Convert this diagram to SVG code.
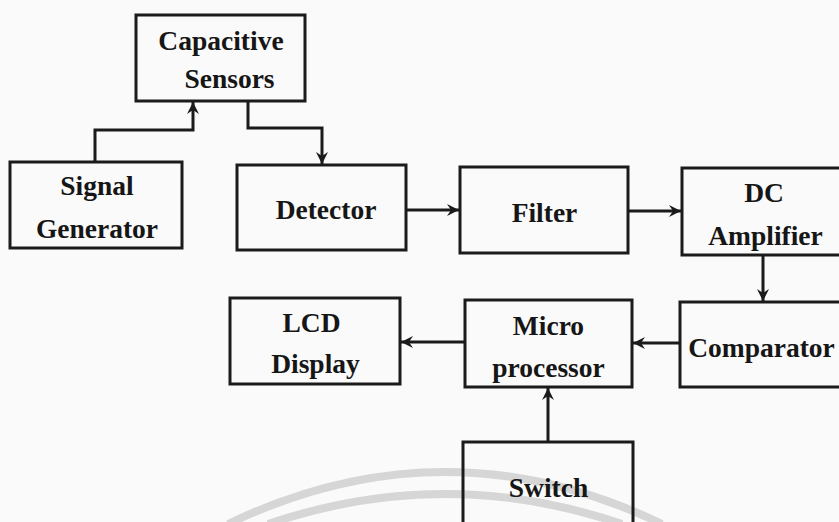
<svg xmlns="http://www.w3.org/2000/svg" width="839" height="522" viewBox="0 0 839 522">
<style>
.box{fill:none;stroke:#1b1b1b;stroke-width:3}
.lbl{font-family:"Liberation Serif","DejaVu Serif","Times New Roman",serif;font-size:27.5px;font-weight:bold;fill:#161616;text-anchor:middle}
.con{fill:none;stroke:#1b1b1b;stroke-width:3;marker-end:url(#ah)}
.wm{fill:none;stroke:#d6d6d6;stroke-width:8}
</style>
<defs>
<marker id="ah" markerUnits="userSpaceOnUse" markerWidth="14" markerHeight="14" refX="12" refY="7" orient="auto">
<path d="M0,1 L12,7 L0,13 L4,7 z" fill="#1b1b1b"/>
</marker>
</defs>
<rect width="839" height="522" fill="#fafafa"/>
<g id="watermark">
<path class="wm" d="M228,524 Q445,420 662,524"/>
<path class="wm" d="M268,524 Q445,464 622,524"/>
</g>
<g id="connectors">
<polyline class="con" points="95,162 95,130 193,130 193,102"/>
<polyline class="con" points="248,101 248,128 322,128 322,164"/>
<line class="con" x1="406" y1="210" x2="459" y2="210"/>
<line class="con" x1="628" y1="211" x2="681" y2="211"/>
<line class="con" x1="763" y1="255" x2="763" y2="301"/>
<line class="con" x1="680" y1="343" x2="633" y2="343"/>
<line class="con" x1="465" y1="342" x2="401" y2="342"/>
<line class="con" x1="548" y1="442" x2="548" y2="388"/>
</g>
<g id="capacitive-sensors">
<rect class="box" x="136" y="15" width="169" height="86"/>
<text class="lbl" x="221" y="50">Capacitive</text>
<text class="lbl" x="229.5" y="88">Sensors</text>
</g>
<g id="signal-generator">
<rect class="box" x="10" y="162" width="172" height="86"/>
<text class="lbl" x="97" y="195">Signal</text>
<text class="lbl" x="97" y="238">Generator</text>
</g>
<g id="detector">
<rect class="box" x="237" y="165" width="169" height="85"/>
<text class="lbl" x="326" y="219">Detector</text>
</g>
<g id="filter">
<rect class="box" x="460" y="167" width="168" height="86"/>
<text class="lbl" x="544.5" y="222">Filter</text>
</g>
<g id="dc-amplifier">
<rect class="box" x="682" y="168" width="170" height="87"/>
<text class="lbl" x="764" y="202">DC</text>
<text class="lbl" x="765.5" y="245">Amplifier</text>
</g>
<g id="comparator">
<rect class="box" x="680" y="302" width="172" height="85"/>
<text class="lbl" x="761.5" y="357">Comparator</text>
</g>
<g id="microprocessor">
<rect class="box" x="465" y="300" width="167" height="87"/>
<text class="lbl" x="548.5" y="335">Micro</text>
<text class="lbl" x="548.5" y="377">processor</text>
</g>
<g id="lcd-display">
<rect class="box" x="230" y="298" width="170" height="86"/>
<text class="lbl" x="311.5" y="332">LCD</text>
<text class="lbl" x="315.5" y="373">Display</text>
</g>
<g id="switch">
<rect class="box" x="463" y="442" width="170" height="100"/>
<text class="lbl" x="548.5" y="497">Switch</text>
</g>
</svg>
